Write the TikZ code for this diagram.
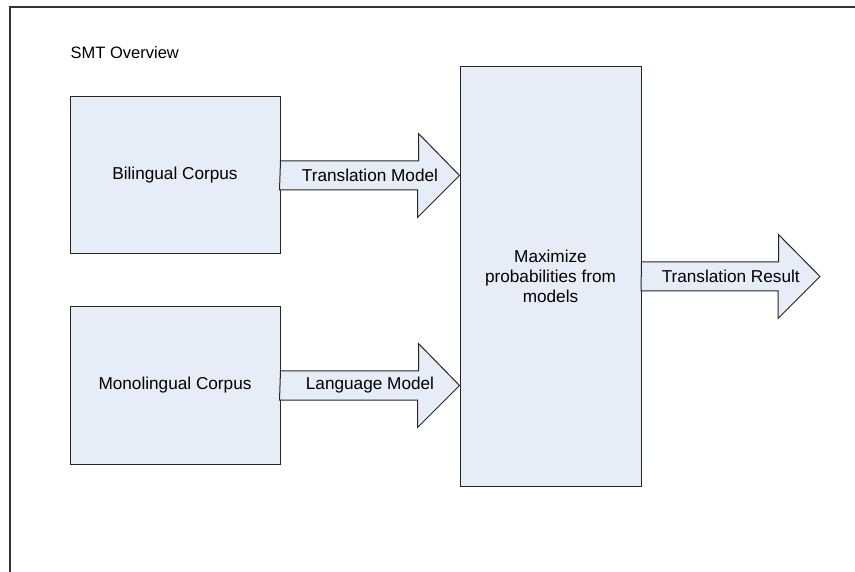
\documentclass[tikz,border=0pt]{standalone}
\usepackage{fontspec}
\setmainfont{Liberation Sans}
\usepackage{tikz}
\usetikzlibrary{calc}
\tikzset{every picture/.style={line width=0.75pt}}
\definecolor{boxfill}{RGB}{230,237,247}
\tikzset{
  txt/.style={font=\fontsize{17.2}{20}\selectfont},
  stagebox/.style={draw=black!85, line width=1pt, fill=boxfill, txt, align=center, inner sep=0pt},
  blockarrow/.style={draw=black!85, line width=1pt, fill=boxfill, line join=miter},
  frameline/.style={draw=black!80, line width=1.3pt}
}
\begin{document}
\begin{tikzpicture}[x=1pt,y=1pt,yscale=-1,xscale=1]
    \useasboundingbox (0,0) rectangle (855,572);
    % outer frame
    \draw[frameline] (10,572) -- (10,7) -- (858,7);
    \node[font=\fontsize{16.5}{20}\selectfont, anchor=west] (title) at (67,53) {SMT Overview};
    % boxes
    \node[stagebox, minimum width=210, minimum height=157] (bil) at (175,175.5) {Bilingual Corpus};
    \node[stagebox, minimum width=210, minimum height=157] (mono) at (175,385.5) {Monolingual Corpus};
    \node[stagebox, minimum width=181, minimum height=419] (max) at (550.5,276.5) {Maximize\\probabilities from\\models};
    \coordinate (res) at (820,276.5);
    % block arrows
    \draw[blockarrow] (bil.east) ++(0,-14.5) -- ++(138,0) -- ++(0,-27.5) -- (max.west |- bil.east) -- ++(-42,42) -- ++(0,-27.5) -- ++(-138,0) -- cycle;
    \draw[blockarrow] (mono.east) ++(0,-14.5) -- ++(138,0) -- ++(0,-27.5) -- (max.west |- mono.east) -- ++(-42,42) -- ++(0,-27.5) -- ++(-138,0) -- cycle;
    \draw[blockarrow] (max.east) ++(0,-14.5) -- ++(137,0) -- ++(0,-27.5) -- (res) -- ++(-42,42) -- ++(0,-27.5) -- ++(-137,0) -- cycle;
    \node[txt] (tm) at ($(bil.east)!0.5!(max.west |- bil.east)$) {Translation Model};
    \node[txt] (lm) at ($(mono.east)!0.5!(max.west |- mono.east)$) {Language Model};
    \node[txt] (tr) at ($(max.east)!0.5!(res)$) {Translation Result};
\end{tikzpicture}
\end{document}
